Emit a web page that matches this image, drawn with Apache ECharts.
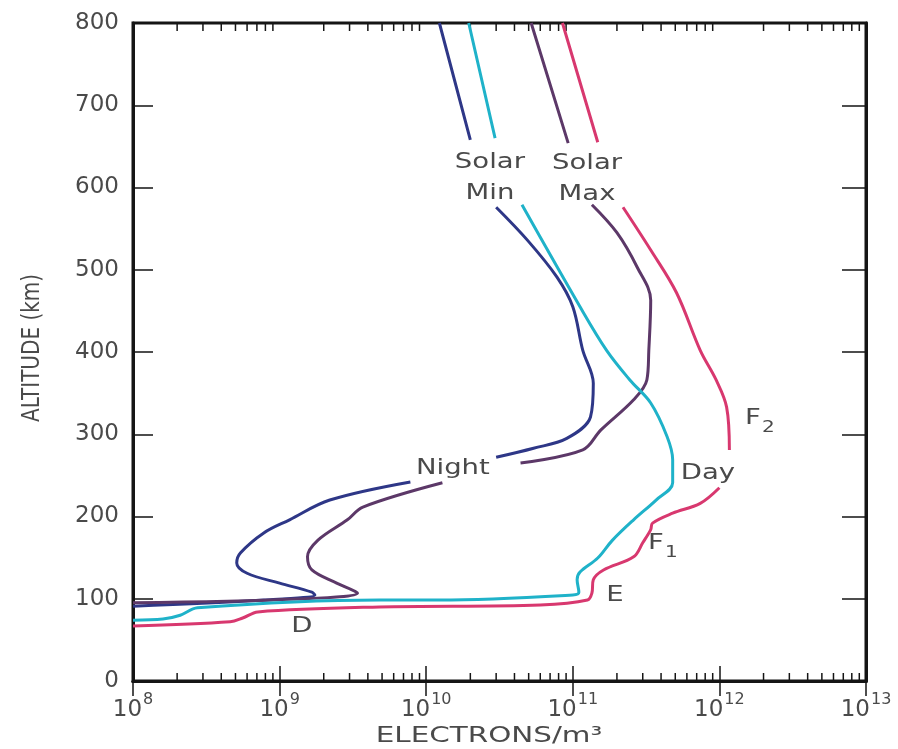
<!DOCTYPE html>
<html><head><meta charset="utf-8">
<script src="https://cdn.jsdelivr.net/npm/echarts@6/dist/echarts.min.js"></script>
<style>html,body{margin:0;padding:0;background:#fff}#c{width:898px;height:749px}</style>
</head><body><div id="c"></div>
<script>
// ---- data (electron density in m^-3, altitude in km); null = gap in the drawn line ----
const nightMinNe  = [1e8, 7.8e8, 1.74e9, 1.66e9, 1.0e9, 6.0e8, 5.1e8, 5.4e8, 7.8e8, 1.17e9, 2.2e9, 7.8e9, null, 3.0e10, 5.4e10, 9.1e10, 1.32e11, 1.38e11, 1.17e11, 1.0e11, 7.8e10, 4.9e10, 3.0e10, null, 2.0e10, 1.23e10];
const nightMinAlt = [91, 98.5, 104.6, 108, 119, 131, 143.5, 155.6, 180, 196, 220, 242, null, 272, 283, 295, 321, 362, 402, 455, 491, 536, 576, null, 658, 800];

const nightMaxNe  = [1e8, 1.32e9, 3.4e9, 2.45e9, 1.66e9, 1.55e9, 1.82e9, 2.9e9, 3.7e9, 1.29e10, null, 4.4e10, 1.17e11, 1.55e11, 2.6e11, 3.2e11, 3.3e11, 3.4e11, 2.75e11, 2.0e11, 1.35e11, null, 9.3e10, 5.2e10];
const nightMaxAlt = [95, 99.7, 107, 119, 135, 151, 171, 196, 211.5, 241, null, 265, 281, 305, 342, 366, 402, 463, 503, 545, 579, null, 654, 800];

const dayMinNe  = [1e8, 1.6e8, 2.1e8, 2.75e8, 4.8e9, 1.23e10, 1.0e11, 1.1e11, 1.07e11, 1.12e11, 1.48e11, 1.86e11, 2.6e11, 3.7e11, 4.8e11, 4.8e11, 4.4e11, 3.4e11, 2.45e11, 1.7e11, 1.12e11, 4.5e10, null, 2.95e10, 1.95e10];
const dayMinAlt = [74, 75.4, 80, 89, 98.5, 98.5, 104.6, 108, 123, 132.5, 149.5, 171, 196, 220, 241, 269, 297, 338, 366, 402, 455, 579, null, 660, 800];

const dayMaxNe  = [1e8, 4.6e8, 5.6e8, 7.1e8, 4.8e9, 6.0e10, 1.26e11, 1.35e11, 1.38e11, 1.62e11, 2.6e11, 3.0e11, 3.4e11, 3.5e11, 4.8e11, 7.4e11, 1.0e12, null, 1.17e12, 1.12e12, 9.5e11, 7.4e11, 5.1e11, 3.4e11, 2.2e11, null, 1.48e11, 8.5e10];
const dayMaxAlt = [67, 72, 76.6, 84, 90, 92.4, 98.5, 107, 123, 135, 151, 168, 184, 192, 204, 216, 235, null, 281, 333, 366, 402, 472, 524, 576, null, 655, 800];

// axis ticks / labels
const xMin = 1e8, xMax = 1e13;
const xTickExponents = ['8', '9', '10', '11', '12', '13'];
const minorTickMultipliers = [2, 3, 4, 5, 6, 7, 8, 9];
const yMin = 0, yMax = 800, yInterval = 100;

// annotations (text, position in data space)
const annotText = ['Solar\nMin', 'Solar\nMax', 'Night', 'Day', '{f|F}{s|2}', '{f|F}{s|1}', 'E', 'D'];
const annotNe   = [2.72e10, 1.25e11, 1.52e10, 8.36e11, 1.89e12, 4.12e11, 1.94e11, 1.42e9];
const annotAlt  = [612, 611, 259, 253, 316, 164, 104.6, 67];

// ---- build ----
function pairs(ne, alt) {
  return ne.map((v, i) => v == null ? ['-', '-'] : [v, alt[i]]);
}
const minorTicks = [];
for (let e = 8; e < 13; e++) for (const m of minorTickMultipliers) minorTicks.push([m * Math.pow(10, e), yMin]);

const FONT = 'DejaVu Sans';
const TXT = '#4a4a4a';
const AX = '#151515';

const chart = echarts.init(document.getElementById('c'), null, {renderer: 'canvas'});

function lineSeries(name, data, color) {
  return {
    name, type: 'line', data, symbol: 'none', smooth: 0.35, connectNulls: false,
    lineStyle: {color, width: 3}, itemStyle: {color}, xAxisIndex: 0, yAxisIndex: 0, silent: true
  };
}

const option = {
  backgroundColor: '#ffffff',
  animation: false,
  grid: {left: 133, right: 32, top: 23, bottom: 68, show: true, borderColor: AX, borderWidth: 3, backgroundColor: 'transparent'},
  xAxis: [
    {
      type: 'log', logBase: 10, min: xMin, max: xMax, position: 'bottom',
      axisLine: {show: true, lineStyle: {color: AX, width: 3}},
      axisTick: {show: true, inside: true, length: 15, lineStyle: {color: AX, width: 1.5}},
      splitLine: {show: false},
      axisLabel: {
        margin: 14,
        formatter: (v) => {
          const idx = Math.round(Math.log10(v)) - 8;
          return '{b|10}{e|' + xTickExponents[idx] + '}';
        },
        rich: {
          b: {fontFamily: FONT, fontSize: 23, color: TXT, lineHeight: 24, padding: [6, 0, 0, 0]},
          e: {fontFamily: FONT, fontSize: 16, color: TXT, lineHeight: 16, padding: [0, 0, 14, 1]}
        }
      }
    },
    {
      type: 'log', logBase: 10, min: xMin, max: xMax, position: 'top',
      axisLine: {show: true, lineStyle: {color: AX, width: 3}},
      axisTick: {show: true, inside: true, length: 15, lineStyle: {color: AX, width: 1.5}},
      axisLabel: {show: false}, splitLine: {show: false}
    }
  ],
  yAxis: [
    {
      type: 'value', min: yMin, max: yMax, interval: yInterval, position: 'left',
      axisLine: {show: true, lineStyle: {color: AX, width: 3}},
      axisTick: {show: true, inside: true, length: 20, lineStyle: {color: AX, width: 1.5}},
      splitLine: {show: false},
      axisLabel: {fontFamily: FONT, fontSize: 23, color: TXT, margin: 14, padding: [0, 0, 11, 0]}
    },
    {
      type: 'value', min: yMin, max: yMax, interval: yInterval, position: 'right',
      axisLine: {show: true, lineStyle: {color: AX, width: 3}},
      axisTick: {show: true, inside: true, length: 24, lineStyle: {color: AX, width: 1.5}},
      axisLabel: {show: false}, splitLine: {show: false}
    }
  ],
  series: [
    {
      type: 'custom', xAxisIndex: 0, yAxisIndex: 0, silent: true, data: minorTicks,
      encode: {x: 0, y: 1},
      renderItem: (params, api) => {
        const v = api.value(0);
        const pb = api.coord([v, yMin]);
        const pt = api.coord([v, yMax]);
        return {type: 'group', children: [
          {type: 'line', shape: {x1: pb[0], y1: pb[1], x2: pb[0], y2: pb[1] - 8}, style: {stroke: AX, lineWidth: 1.5}},
          {type: 'line', shape: {x1: pt[0], y1: pt[1], x2: pt[0], y2: pt[1] + 8}, style: {stroke: AX, lineWidth: 1.5}}
        ]};
      }
    },
    lineSeries('Night Solar Min', pairs(nightMinNe, nightMinAlt), '#2e3787'),
    lineSeries('Night Solar Max', pairs(nightMaxNe, nightMaxAlt), '#5c3868'),
    lineSeries('Day Solar Min', pairs(dayMinNe, dayMinAlt), '#1fb2c9'),
    lineSeries('Day Solar Max', pairs(dayMaxNe, dayMaxAlt), '#d8386f')
  ]
};
chart.setOption(option);

// annotations positioned from data coordinates
const graphics = annotText.map((t, i) => {
  const p = chart.convertToPixel({xAxisIndex: 0, yAxisIndex: 0}, [annotNe[i], annotAlt[i]]);
  return {
    type: 'text', x: p[0], y: p[1], scaleX: 1.25, z: 100, silent: true,
    style: {
      text: t, font: '22px "DejaVu Sans"', fill: TXT,
      align: 'center', verticalAlign: 'middle', textAlign: 'center', textVerticalAlign: 'middle',
      lineHeight: 31,
      rich: {
        f: {font: '22px "DejaVu Sans"', fill: TXT, lineHeight: 24, padding: [0, 0, 6, 0]},
        s: {font: '16px "DejaVu Sans"', fill: TXT, lineHeight: 16, padding: [14, 0, 0, 1]}
      }
    }
  };
});
// axis titles
graphics.push({
  type: 'text', x: 489, y: 737, scaleX: 1.4, silent: true,
  style: {text: 'ELECTRONS/m\u00b3', font: '21px "DejaVu Sans"', fill: TXT,
    align: 'center', verticalAlign: 'middle', textAlign: 'center', textVerticalAlign: 'middle'}
});
graphics.push({
  type: 'text', x: 32, y: 348, rotation: Math.PI / 2, scaleY: 1.25, silent: true,
  style: {text: 'ALTITUDE (km)', font: '20px "DejaVu Sans"', fill: TXT,
    align: 'center', verticalAlign: 'middle', textAlign: 'center', textVerticalAlign: 'middle'}
});
chart.setOption({graphic: graphics});
</script></body></html>
